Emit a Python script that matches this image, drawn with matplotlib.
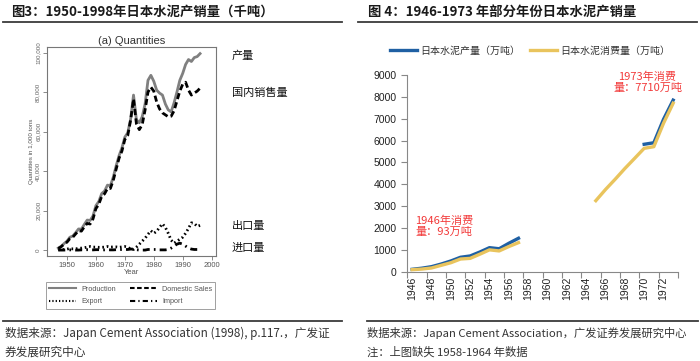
import numpy as np
import matplotlib
matplotlib.use('Agg')
import matplotlib.pyplot as plt
from matplotlib.lines import Line2D

plt.rcParams['font.family'] = ['Liberation Sans', 'Noto Sans CJK SC', 'DejaVu Sans']
CJK = ['Noto Sans CJK SC', 'DejaVu Sans']

# ---------------- data: left chart (1,000 tons) ----------------
q_years = list(range(1947, 1997))
production = [1000, 1900, 3300, 4500, 6500, 7100, 8800, 10700, 10600, 13000,
              15200, 15000, 17300, 22500, 24600, 28600, 29900, 32900, 32600, 36900,
              42700, 47800, 51800, 57200, 59400, 66300, 78500, 66000, 64500, 67500,
              74000, 86000, 88500, 85500, 81000, 79500, 78500, 74000, 71000, 70000,
              74500, 80000, 86000, 89500, 94000, 96500, 95500, 97500, 98000, 99500]
domestic = [800, 1700, 3000, 4000, 5800, 6500, 8200, 9800, 9600, 11800,
            13500, 13200, 15800, 21000, 23200, 27200, 28500, 31200, 31200, 35300,
            41000, 46500, 50200, 56000, 58000, 65800, 76500, 64000, 61000, 63500,
            71000, 80000, 82500, 80500, 75000, 71500, 69500, 68500, 67500, 67800,
            70500, 75500, 80500, 84000, 85000, 81000, 78500, 79500, 80500, 82000]
export = [200, 200, 300, 500, 800, 600, 600, 900, 1000, 1200,
          1500, 1800, 1500, 1500, 1400, 1400, 1500, 1800, 1500, 1600,
          1600, 1400, 1600, 1800, 1500, 500, 300, 1500, 3000, 4500,
          6000, 8000, 9800, 8500, 9500, 11500, 13300, 11500, 8500, 5000,
          3500, 4500, 5500, 6500, 8500, 11000, 13800, 13500, 12000, 12500]
imports = [0, 0, 0, 100, 100, 100, 0, 0, 100, 100,
           200, 100, 100, 200, 200, 100, 100, 200, 100, 100,
           200, 200, 300, 300, 300, 500, 500, 200, 0, 0,
           0, 300, 300, 300, 300, 100, 100, 100, 300, 1000,
           2000, 3000, 3500, 3000, 2000, 1000, 500, 300, 300, 300]
q_xticks = [1950, 1960, 1970, 1980, 1990, 2000]
q_yticks = [0, 20000, 40000, 60000, 80000, 100000]
q_ylabels = ['0', '20,000', '40,000', '60,000', '80,000', '100,000']

# ---------------- data: right chart (10,000 tons) ----------------
years = list(range(1946, 1974))
nan = np.nan
prod_wan = [110, 160, 230, 350, 490, 660, 720, 900, 1100, 1050, 1300, 1530,
            nan, nan, nan, nan, nan, nan, nan, nan, nan, nan, nan, nan,
            5830, 5900, 6970, 7850]
cons_wan = [93, 120, 170, 290, 410, 580, 610, 800, 1000, 950, 1150, 1330,
            nan, nan, nan, nan, nan, nan, nan,
            3250, 3760, 4230, 4720, 5180, 5645, 5720, 6790, 7710]

W, H = 700, 361
fig = plt.figure(figsize=(7, 3.61), dpi=100)
fig.patch.set_facecolor('white')


def rect(l, t, r, b):
    return [l / W, 1 - b / H, (r - l) / W, (b - t) / H]


def fx(x):
    return x / W


def fy(y):
    return 1 - y / H


# ---------------- titles & rules ----------------
fig.text(fx(11), fy(12), '图3：1950-1998年日本水泥产销量（千吨）', family=CJK,
         fontsize=9.6, fontweight='bold', color='#1a1a1a', va='center', ha='left')
fig.text(fx(368), fy(12), '图 4：1946-1973 年部分年份日本水泥产销量', family=CJK,
         fontsize=9.6, fontweight='bold', color='#1a1a1a', va='center', ha='left')
for (x0, x1, y) in [(3, 342, 22), (358, 697, 22), (3, 342, 320.7), (367, 698, 320.7)]:
    fig.add_artist(Line2D([fx(x0), fx(x1)], [fy(y), fy(y)], color='#3a3a3a', lw=1.3,
                          transform=fig.transFigure))

fig.text(fx(5), fy(333), '数据来源：Japan Cement Association (1998), p.117.，广发证',
         family=CJK, fontsize=8.4, color='#333333', va='center')
fig.text(fx(5), fy(352), '券发展研究中心', family=CJK, fontsize=8.4, color='#333333', va='center')
fig.text(fx(367), fy(333), '数据来源：Japan Cement Association，广发证券发展研究中心',
         family=CJK, fontsize=8.15, color='#333333', va='center')
fig.text(fx(367), fy(352), '注：上图缺失 1958-1964 年数据', family=CJK, fontsize=8.15,
         color='#333333', va='center')

# ---------------- left chart ----------------
axL = fig.add_axes(rect(46.7, 46.7, 216, 256))
l1, = axL.plot(q_years, production, color='#808080', lw=2.0, label='Production')
l2, = axL.plot(q_years, domestic, color='black', lw=2.0, dashes=(2.2, 1.2), label='Domestic Sales')
l3, = axL.plot(q_years, export, color='black', lw=2.0, dashes=(0.6, 1.0), label='Export')
l4, = axL.plot(q_years, imports, color='black', lw=2.0, dashes=(2.5, 1.5, 0.6, 1.5), label='Import')
axL.set_xlim(1943, 2001.5)
axL.set_ylim(-3000, 103000)
axL.set_xticks(q_xticks)
axL.set_yticks(q_yticks)
axL.set_yticklabels(q_ylabels, rotation=90, va='center')
axL.tick_params(axis='x', labelsize=5.5, length=3, width=0.6, color='#777',
                labelcolor='#555', pad=1.5)
axL.tick_params(axis='y', labelsize=4.5, length=3, width=0.6, color='#777',
                labelcolor='#666', pad=1.5)
for s in axL.spines.values():
    s.set_color('#777')
    s.set_linewidth(0.8)
axL.set_title('(a) Quantities', fontsize=8, pad=2, color='#333')
axL.set_xlabel('Year', fontsize=5.5, labelpad=0, color='#555')
axL.set_ylabel('Quantities in 1,000 tons', fontsize=4.5, labelpad=1, color='#555')

legL = fig.legend([l1, l3, l2, l4], ['Production', 'Export', 'Domestic Sales', 'Import'],
                  ncol=2, loc='center', bbox_to_anchor=(fx(130.5), fy(295.5)),
                  fontsize=5.2, frameon=True, fancybox=False, edgecolor='#888',
                  handlelength=3.8, handletextpad=0.7, columnspacing=1.9,
                  borderpad=0.45, labelspacing=0.75, borderaxespad=0)
legL.get_frame().set_linewidth(0.7)
for t in legL.get_texts():
    t.set_color('#555')
for h in legL.get_lines():
    h.set_linewidth(1.5)

for txt, y in [('产量', 56), ('国内销售量', 92.7), ('出口量', 226), ('进口量', 248)]:
    fig.text(fx(232), fy(y), txt, family=CJK, fontsize=8, color='#111', va='center')

# ---------------- right chart ----------------
axR = fig.add_axes(rect(407.3, 75, 678, 271.7))
xi = np.arange(len(years))
b1, = axR.plot(xi, prod_wan, color='#1f60a3', lw=2.4, label='日本水泥产量（万吨）')
b2, = axR.plot(xi, cons_wan, color='#e9c45d', lw=2.4, label='日本水泥消费量（万吨）')
axR.set_xlim(-0.5, len(years) - 0.5)
axR.set_ylim(0, 9000)
axR.set_yticks(range(0, 9001, 1000))
axR.set_xticks(xi[::2])
axR.set_xticklabels([str(y) for y in years[::2]], rotation=90)
axR.set_xticks(np.arange(-0.5, len(years), 2), minor=True)
axR.tick_params(axis='x', which='major', length=0, labelsize=7.5, pad=3.8, labelcolor='#222')
axR.tick_params(axis='x', which='minor', length=4, width=0.8, color='#888')
axR.tick_params(axis='y', length=4, width=0.8, color='#888', labelsize=7.5, pad=3.6,
                labelcolor='#222')
for s in ['top', 'right']:
    axR.spines[s].set_visible(False)
for s in ['left', 'bottom']:
    axR.spines[s].set_color('#888')
    axR.spines[s].set_linewidth(0.8)

legR = axR.legend(handles=[b1, b2], ncol=2, loc='center', bbox_to_anchor=(fx(530), fy(50.7)),
                  bbox_transform=fig.transFigure, frameon=False,
                  prop={'family': CJK, 'size': 7.2}, handlelength=2.7,
                  handletextpad=0.35, columnspacing=1.0)
for t in legR.get_texts():
    t.set_color('#333')

fig.text(fx(415), fy(226.3), '1946年消费\n量：93万吨', family=CJK, fontsize=8,
         color='#f23a3a', va='center', ha='left', linespacing=1.15)
fig.text(fx(647.5), fy(82.5), '1973年消费\n量：7710万吨', family=CJK, fontsize=8,
         color='#f23a3a', va='center', ha='center', linespacing=1.15)

fig.savefig('out.png', dpi=100, facecolor='white')
